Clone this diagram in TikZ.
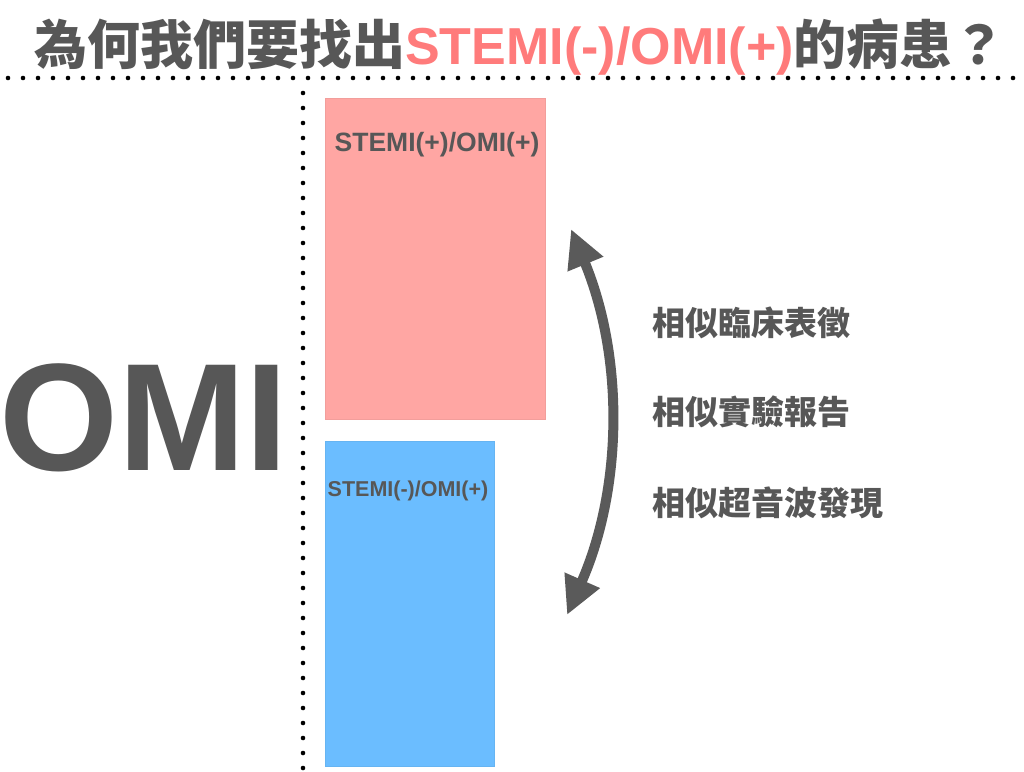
\documentclass[tikz,border=0pt]{standalone}
\usepackage{fontspec}
\setmainfont{Liberation Sans}
\newfontfamily\cjk{Noto Sans CJK TC}
\usetikzlibrary{arrows.meta}
\definecolor{txtgray}{HTML}{575757}
\definecolor{titlered}{HTML}{FF7B7B}
\definecolor{redbox}{HTML}{FFA6A3}
\definecolor{bluebox}{HTML}{6BBDFF}
\definecolor{arrowgray}{HTML}{5A5A5A}
\tikzset{
  box/.style={draw=#1!95!black, line width=0.5pt, fill=#1, inner sep=0, anchor=north west},
  boxlabel/.style={text=txtgray, font=\bfseries, inner sep=0, anchor=base},
  sidetext/.style={text=txtgray, font=\cjk\bfseries\fontsize{33}{40}\selectfont, inner sep=0, anchor=base west},
  dotline/.style={line width=4.6pt, line cap=round, dash pattern=on 0pt off 15pt, black},
  bigarrow/.style={line width=10pt, arrowgray, {Triangle[length=38pt,width=36pt]}-{Triangle[length=38pt,width=36pt]}}
}
\begin{document}
\begin{tikzpicture}[x=1pt,y=-1pt]
\useasboundingbox[fill=white] (0,0) rectangle (1024,771);
% title
\node[inner sep=0, anchor=base, text=txtgray] (title) at (520,64)
  {\cjk\bfseries\fontsize{53}{60}\selectfont 為何我們要找出{\rmfamily\fontsize{52}{60}\selectfont\color{titlered}STEMI(-)/OMI(+)}的病患？};
% dotted lines
\draw[dotline] (8,78) -- (1022,78);
\draw[dotline] (303,93) -- (303,771);
% boxes
\node[box=redbox, minimum width=220pt, minimum height=321pt] (red) at (325,98) {};
\node[box=bluebox, minimum width=169pt, minimum height=325pt] (blue) at (325,441) {};
\node[boxlabel, font=\bfseries\fontsize{26.5}{30}\selectfont] (redlbl) at (437,151) {STEMI(+)/OMI(+)};
\node[boxlabel, font=\bfseries\fontsize{21.5}{25}\selectfont] (bluelbl) at (408,496) {STEMI(-)/OMI(+)};
% OMI
\node[inner sep=0, anchor=base west, text=txtgray, font=\bfseries\fontsize{153}{160}\selectfont] (omi) at (-1,470) {OMI};
% arrow
\coordinate (atop) at (571,229);
\coordinate (abot) at (567,615);
\draw[bigarrow] (atop) .. controls (625,360) and (622,490) .. (abot);
% side texts
\node[sidetext] (t1) at (652,335) {相似臨床表徵};
\node[sidetext] (t2) at (652,424) {相似實驗報告};
\node[sidetext] (t3) at (652,515) {相似超音波發現};
\end{tikzpicture}
\end{document}
